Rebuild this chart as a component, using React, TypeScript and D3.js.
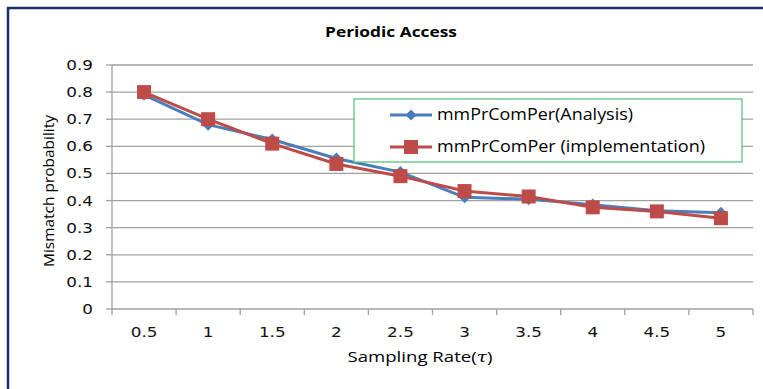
import React from "react";
import * as d3 from "d3";

const categories = ["0.5", "1", "1.5", "2", "2.5", "3", "3.5", "4", "4.5", "5"];
const analysis = [0.79, 0.68, 0.625, 0.555, 0.505, 0.412, 0.405, 0.385, 0.362, 0.355];
const implementation = [0.8, 0.7, 0.61, 0.535, 0.49, 0.435, 0.415, 0.375, 0.36, 0.335];
const yTicks = [0, 0.1, 0.2, 0.3, 0.4, 0.5, 0.6, 0.7, 0.8, 0.9];
const seriesNames = ["mmPrComPer(Analysis)", "mmPrComPer (implementation)"];

const W = 763, H = 389;
const left = 112, right = 753, top = 65, bottom = 309;

export default function App() {
  const x = d3.scaleBand<string>().domain(categories).range([left, right]);
  const y = d3.scaleLinear().domain([0, 0.9]).range([bottom, top]);
  const line = d3.line<number>()
    .x((_, i) => (x(categories[i]) as number) + x.bandwidth() / 2)
    .y((d) => y(d));
  const blue = "#4a7ebb";
  const red = "#be4b48";
  const grid = "#a0a0a0";
  const diamond = (cx: number, cy: number, r: number) =>
    `M${cx},${cy - r}L${cx + r},${cy}L${cx},${cy + r}L${cx - r},${cy}Z`;
  const bounds = x.domain().map((c) => x(c) as number).concat([right]);
  const tickFont = "DejaVu Sans, sans-serif";
  const labFont = "Open Sans, sans-serif";

  return (
    <svg width={W} height={H} style={{ position: "absolute", left: 0, top: 0, background: "#fff" }}>
      <rect x={8} y={8} width={W + 20} height={H + 20} fill="#fff" stroke="#1f2d6b" strokeWidth={2.5} />
      <text x={391} y={37} textAnchor="middle" fontFamily={labFont} fontWeight="bold" fontSize={14} fill="#000" textLength={132} lengthAdjust="spacingAndGlyphs">Periodic Access</text>
      {yTicks.map((t) => (
        <g key={t}>
          <line x1={left} x2={right} y1={y(t)} y2={y(t)} stroke={grid} strokeWidth={1.3} />
          <line x1={left - 6} x2={left} y1={y(t)} y2={y(t)} stroke={grid} strokeWidth={1.3} />
          <text transform={`translate(93,${y(t) + 5}) scale(1.2,1)`} textAnchor="end" fontFamily={tickFont} fontSize={14} fill="#111">{t}</text>
        </g>
      ))}
      <line x1={left} x2={left} y1={top} y2={bottom} stroke={grid} strokeWidth={1.3} />
      {bounds.map((b, i) => (
        <line key={i} x1={b} x2={b} y1={bottom} y2={bottom + 6} stroke={grid} strokeWidth={1.3} />
      ))}
      {categories.map((c) => (
        <text key={c} transform={`translate(${(x(c) as number) + x.bandwidth() / 2},337) scale(1.2,1)`} textAnchor="middle" fontFamily={tickFont} fontSize={14} fill="#111">{c}</text>
      ))}
      <text x={420} y={362} textAnchor="middle" fontFamily={labFont} fontSize={14.5} fill="#000" textLength={145} lengthAdjust="spacingAndGlyphs">Sampling Rate(<tspan fontStyle="italic" fontFamily="DejaVu Serif, serif">τ</tspan>)</text>
      <text transform={`translate(54,${191}) rotate(-90)`} textAnchor="middle" fontFamily={labFont} fontSize={14.5} fill="#000" textLength={152} lengthAdjust="spacingAndGlyphs">Mismatch probability</text>

      <path d={line(analysis) as string} fill="none" stroke={blue} strokeWidth={3} />
      {analysis.map((v, i) => (
        <path key={i} d={diamond((x(categories[i]) as number) + x.bandwidth() / 2, y(v), 6)} fill={blue} />
      ))}
      <path d={line(implementation) as string} fill="none" stroke={red} strokeWidth={3} />
      {implementation.map((v, i) => (
        <rect key={i} x={(x(categories[i]) as number) + x.bandwidth() / 2 - 7} y={y(v) - 7} width={14} height={14} fill={red} />
      ))}

      <rect x={354} y={99} width={388} height={63} fill="#fff" stroke="#5cc07d" strokeWidth={1.3} />
      <line x1={390} x2={432} y1={115} y2={115} stroke={blue} strokeWidth={3} />
      <path d={diamond(411, 115, 5.5)} fill={blue} />
      <text x={437} y={120} fontFamily={labFont} fontSize={15.5} fill="#000" textLength={196} lengthAdjust="spacingAndGlyphs">{seriesNames[0]}</text>
      <line x1={390} x2={432} y1={147} y2={147} stroke={red} strokeWidth={3} />
      <rect x={404} y={140} width={14} height={14} fill={red} />
      <text x={437} y={152} fontFamily={labFont} fontSize={15.5} fill="#000" textLength={268} lengthAdjust="spacingAndGlyphs">{seriesNames[1]}</text>
    </svg>
  );
}
